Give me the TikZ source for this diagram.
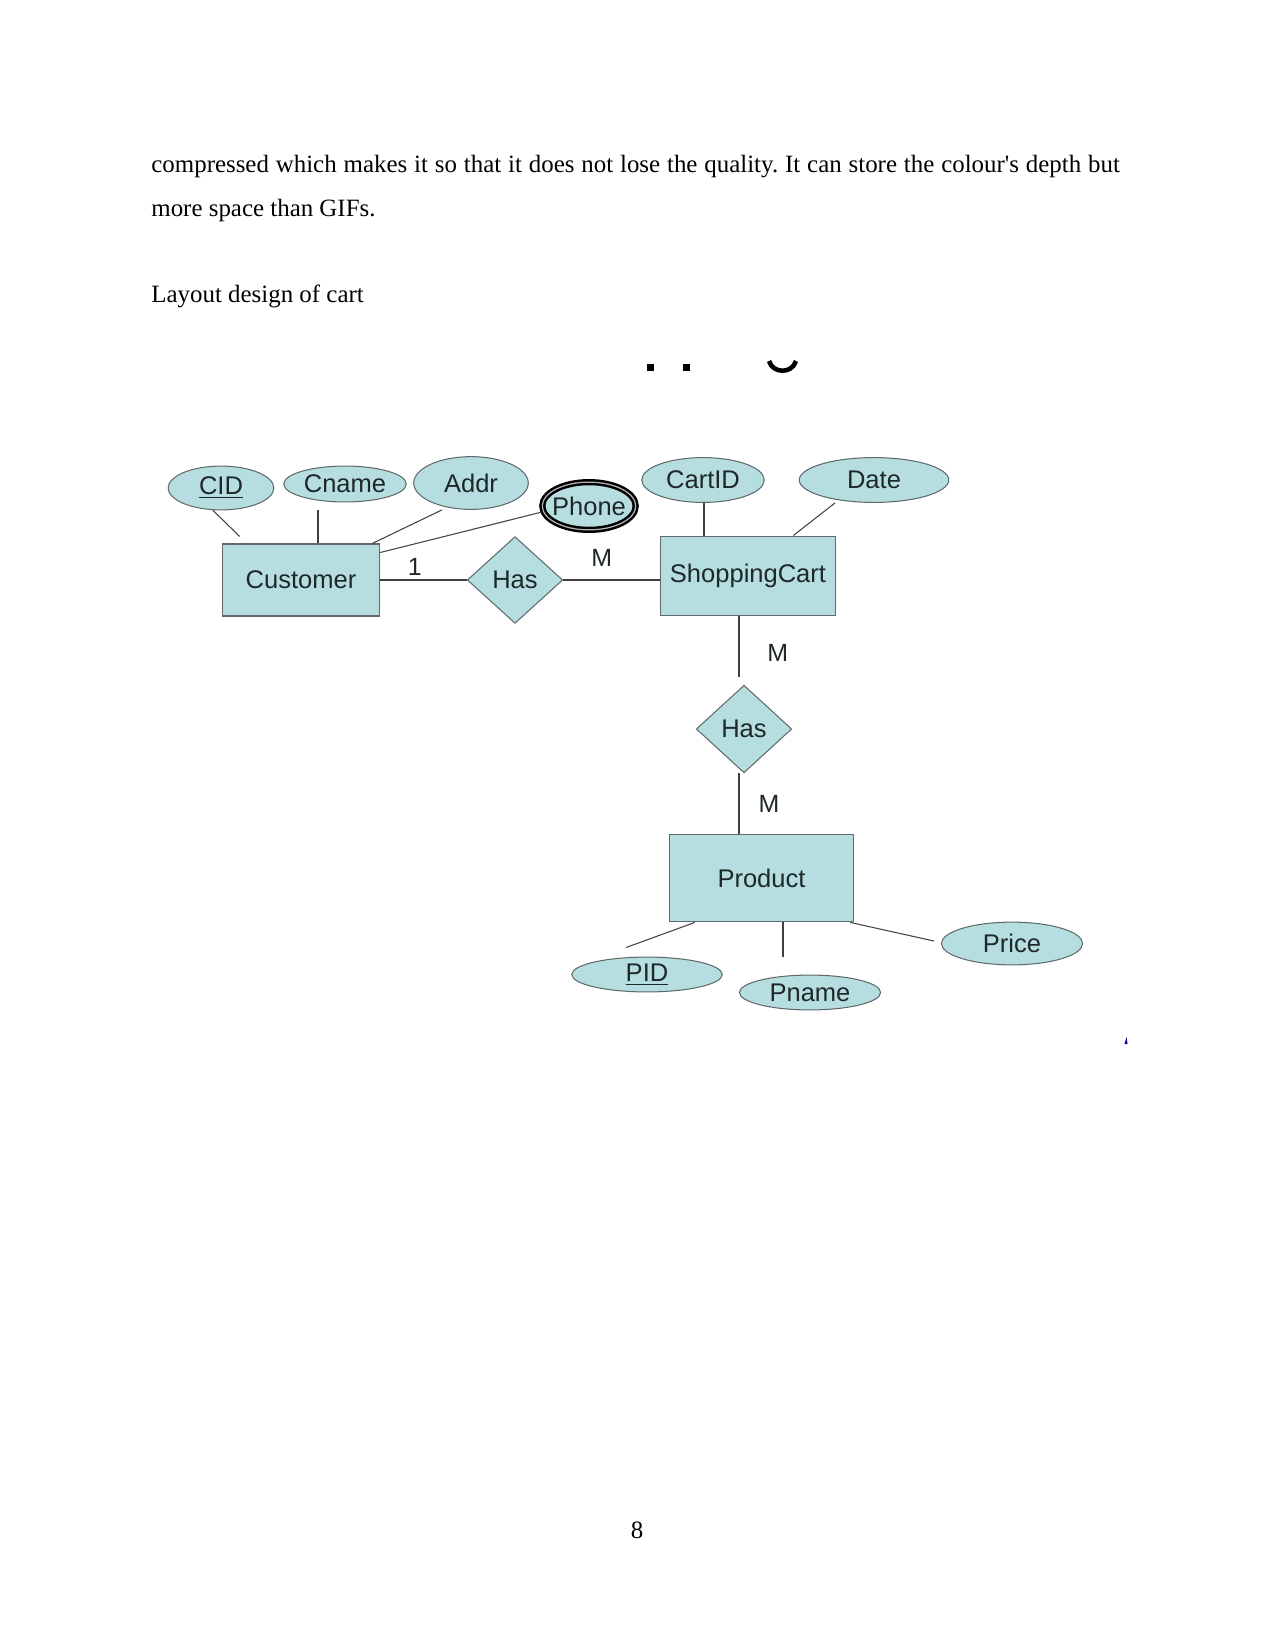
\documentclass[tikz,border=0pt]{standalone}
\usepackage{fontspec}
\setmainfont{Liberation Serif}
\newfontfamily\erfont{Liberation Sans}
\usetikzlibrary{shapes.geometric,calc}
\definecolor{erfill}{RGB}{182,222,225}
\definecolor{erline}{RGB}{95,105,105}
\definecolor{ertext}{RGB}{30,40,40}
\frenchspacing

\begin{document}
\begin{tikzpicture}[x=0.16933mm, y=-0.16933mm]
    \tikzstyle{bodytext} = [anchor=base west, inner sep=0pt, font=\fontsize{12}{14}\selectfont]
    \tikzstyle{entity}   = [draw=erline, fill=erfill, rectangle, text=ertext, font=\erfont\fontsize{12.3}{14}\selectfont, line width=0.6pt, inner sep=3pt]
    \tikzstyle{attrib}   = [draw=erline, fill=erfill, ellipse, text=ertext, font=\erfont\fontsize{12.3}{14}\selectfont, line width=0.5pt, inner sep=0pt]
    \tikzstyle{multi}    = [attrib, draw=black, line width=1.2pt, double=gray!60, double distance=0.6pt, inner xsep=-2pt]
    \tikzstyle{relation} = [draw=erline, fill=erfill, diamond, aspect=1, text=ertext, font=\erfont\fontsize{12.3}{14}\selectfont, line width=0.5pt, inner sep=0pt]
    \tikzstyle{link}     = [draw=black!75, line width=0.5pt]
    \tikzstyle{card}     = [font=\erfont\fontsize{12}{14}\selectfont, text=ertext, inner sep=0pt]

    \useasboundingbox (0,0) rectangle (1275,1650);

    % page text
    \node [bodytext] (line1) at (151,172) {\makebox[466.6pt][s]{compressed which makes it so that it does not lose the quality. It can store the colour\textquotesingle s depth but}};
    \node [bodytext] (line2) at (151,216) {more space than GIFs.};
    \node [bodytext] (caption) at (151,302) {Layout design of cart};
    \node [bodytext, anchor=base] (pagenum) at (637,1538) {8};

    % cut-off title remains
    \fill (647,364) rectangle (654,371);
    \fill (683,364) rectangle (690,371);
    \draw [line width=2.2pt] (769,361) .. controls (773,374) and (792,374) .. (796,361);

    % entities and relations
    \node [entity, minimum width=75.8pt, minimum height=34.6pt] (customer) at (301,580) {Customer};
    \node [entity, minimum width=84.5pt, minimum height=38.4pt] (cart) at (748,576) {ShoppingCart};
    \node [entity, minimum width=88.8pt, minimum height=42.2pt] (product) at (761.5,878) {Product};
    \node [relation, minimum width=46pt, minimum height=41.8pt] (has1) at (515,580) {Has};
    \node [relation, minimum width=46pt, minimum height=42.2pt] (has2) at (744,729) {Has};

    % attributes
    \node [attrib, minimum width=50.9pt, minimum height=21.1pt] (cid) at (221,488) {\underline{CID}};
    \node [attrib, minimum width=59pt, minimum height=17.3pt] (cname) at (345,484) {Cname};
    \node [attrib, minimum width=55.2pt, minimum height=25.4pt] (addr) at (471,483) {Addr};
    \node [multi, minimum width=45pt, minimum height=23pt] (phone) at (589,506) {Phone};
    \node [attrib, minimum width=59pt, minimum height=21.6pt] (cartid) at (703,480) {CartID};
    \node [attrib, minimum width=72pt, minimum height=21.6pt] (date) at (874,480) {Date};
    \node [attrib, minimum width=72.5pt, minimum height=16.8pt] (pid) at (647,974.5) {\underline{PID}};
    \node [attrib, minimum width=68pt, minimum height=16.8pt] (pname) at (810,992.5) {Pname};
    \node [attrib, minimum width=68pt, minimum height=20.6pt] (price) at (1012,943.5) {Price};

    % Connections
    \draw [link] ($(cid.south)+(-8,0)$) -- ($(customer.north west)+(18,-7)$);
    \draw [link] ($(cname.south)+(-27,8)$) -- ($(customer.north)+(17,0)$);
    \draw [link] ($(addr.south)+(-29,0)$) -- ($(customer.north east)+(-8,0)$);
    \draw [link] ($(phone.west)+(1,6)$) -- ($(customer.north east)+(0,9)$);
    \draw [link] ($(cartid.south)+(1,0)$) -- ($(cart.north)+(-44,0)$);
    \draw [link] ($(date.south)+(-39,0)$) -- ($(cart.north east)+(-43,0)$);

    \draw [link] (customer.east) -- node[card, pos=0.4, yshift=6.3pt] {1} (has1.west);
    \draw [link] (has1.east) -- node[card, pos=0.4, yshift=10.6pt] {M} (has1.east -| cart.west);
    \draw [link] ($(cart.south)+(-9,0)$) -- node[card, pos=0.6, xshift=18.7pt] {M} ($(has2.north)+(-5,-8)$);
    \draw [link] ($(has2.south)+(-5,0)$) -- node[card, pos=0.5, xshift=14.4pt] {M} ($(product.north)+(-22.5,0)$);

    \draw [link] ($(product.south west)+(26,0)$) -- ($(pid.north)+(-21,-9)$);
    \draw [link] ($(product.south)+(21.5,0)$) -- ($(pname.north)+(-27,-18)$);
    \draw [link] ($(product.south east)+(-4,0)$) -- ($(price.west)+(-7,-2.5)$);

    % stray mark
    \fill [blue!70!black] (1124.5,1044) -- (1126.5,1037) -- (1127.5,1044) -- cycle;

\end{tikzpicture}
\end{document}
